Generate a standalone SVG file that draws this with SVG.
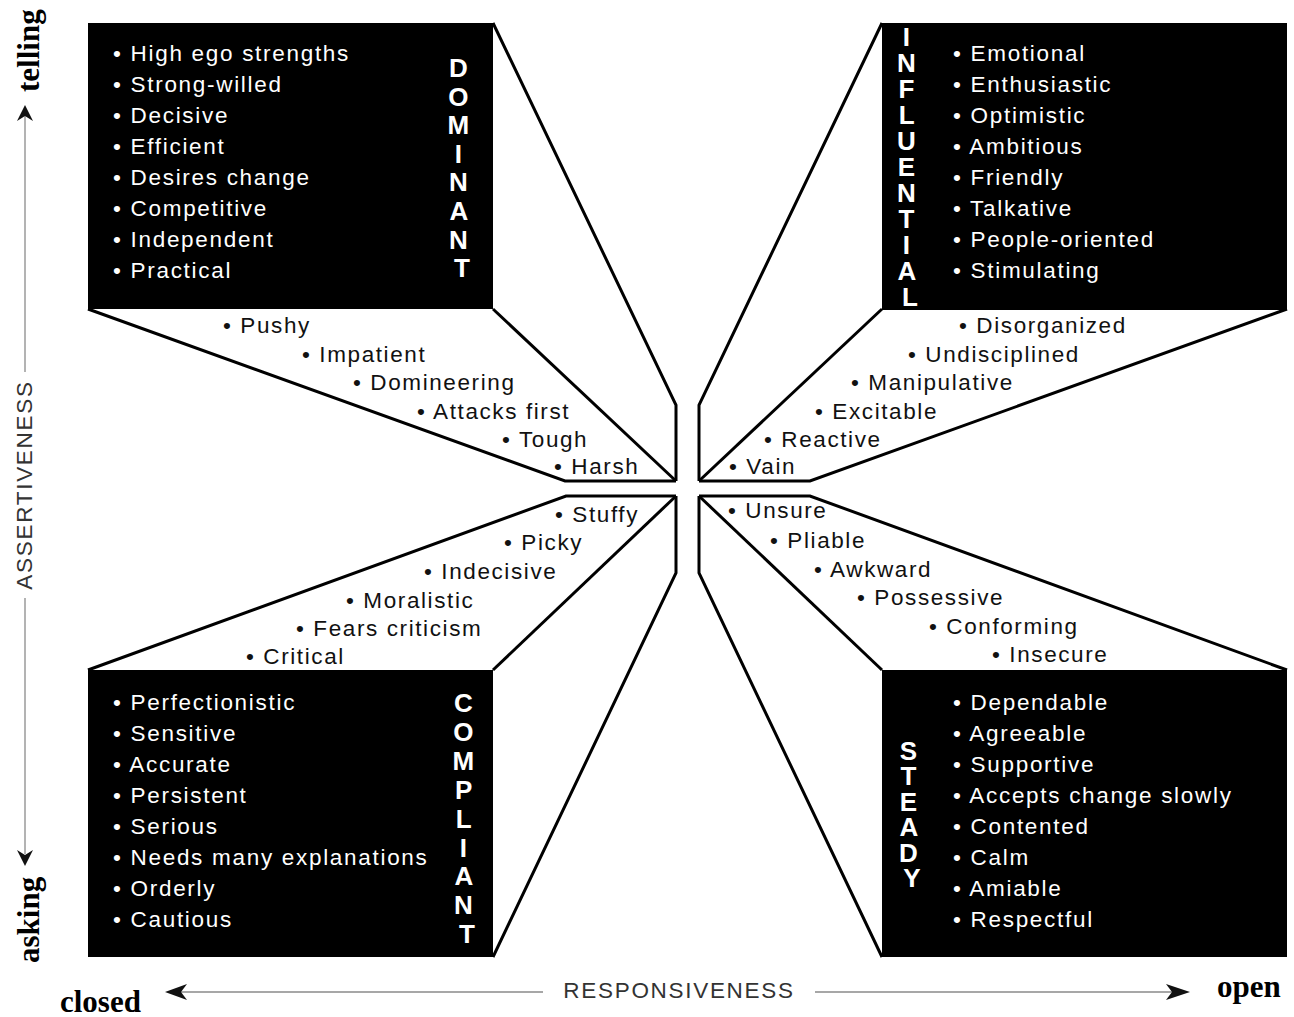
<svg xmlns="http://www.w3.org/2000/svg" width="1294" height="1017" viewBox="0 0 1294 1017">
  <style>
    .box { fill: #000; }
    .edge { fill: none; stroke: #000; stroke-width: 3; stroke-linejoin: miter; }
    .item { font-family: "Liberation Sans", Arial, Helvetica, sans-serif; font-size: 22.5px; letter-spacing: 1.7px; fill: #fff; }
    .trait { font-family: "Liberation Sans", Arial, Helvetica, sans-serif; font-size: 22.5px; letter-spacing: 1.6px; fill: #111; }
    .title { font-family: "Liberation Sans", Arial, Helvetica, sans-serif; font-size: 26px; font-weight: bold; fill: #fff; text-anchor: middle; }
    .axis { fill: none; stroke: #8a8a8a; stroke-width: 1.3; }
    .axislabel { font-family: "Liberation Sans", Arial, Helvetica, sans-serif; font-size: 22.5px; letter-spacing: 1.7px; fill: #333; text-anchor: middle; }
    .pole { font-family: "Liberation Serif", "Times New Roman", serif; font-size: 31px; font-weight: bold; fill: #000; }
    .head { fill: #111; }
  </style>

  <rect width="1294" height="1017" fill="#fff"/>

  <!-- Dominant quadrant -->
  <g id="dominant">
    <rect class="box" x="88" y="23" width="405" height="286"/>
    <text class="item">
      <tspan x="113" y="61">• High ego strengths</tspan>
      <tspan x="113" y="92">• Strong-willed</tspan>
      <tspan x="113" y="123">• Decisive</tspan>
      <tspan x="113" y="154">• Efficient</tspan>
      <tspan x="113" y="185">• Desires change</tspan>
      <tspan x="113" y="216">• Competitive</tspan>
      <tspan x="113" y="247">• Independent</tspan>
      <tspan x="113" y="278">• Practical</tspan>
    </text>
    <text class="title">
      <tspan x="462" y="77">D</tspan>
      <tspan x="462" y="105.6">O</tspan>
      <tspan x="462" y="134.2">M</tspan>
      <tspan x="462" y="162.8">I</tspan>
      <tspan x="462" y="191.4">N</tspan>
      <tspan x="462" y="220">A</tspan>
      <tspan x="462" y="248.6">N</tspan>
      <tspan x="462" y="277.2">T</tspan>
    </text>
    <text class="trait">
      <tspan x="223" y="333">• Pushy</tspan>
      <tspan x="302" y="362">• Impatient</tspan>
      <tspan x="353" y="390">• Domineering</tspan>
      <tspan x="417" y="419">• Attacks first</tspan>
      <tspan x="502" y="447">• Tough</tspan>
      <tspan x="554" y="474">• Harsh</tspan>
    </text>
  </g>

  <!-- Influential quadrant -->
  <g id="influential">
    <rect class="box" x="882" y="23" width="405" height="287"/>
    <text class="item">
      <tspan x="953" y="61">• Emotional</tspan>
      <tspan x="953" y="92">• Enthusiastic</tspan>
      <tspan x="953" y="123">• Optimistic</tspan>
      <tspan x="953" y="154">• Ambitious</tspan>
      <tspan x="953" y="185">• Friendly</tspan>
      <tspan x="953" y="216">• Talkative</tspan>
      <tspan x="953" y="247">• People-oriented</tspan>
      <tspan x="953" y="278">• Stimulating</tspan>
    </text>
    <text class="title">
      <tspan x="910" y="46">I</tspan>
      <tspan x="910" y="72">N</tspan>
      <tspan x="910" y="98">F</tspan>
      <tspan x="910" y="124">L</tspan>
      <tspan x="910" y="150">U</tspan>
      <tspan x="910" y="176">E</tspan>
      <tspan x="910" y="202">N</tspan>
      <tspan x="910" y="228">T</tspan>
      <tspan x="910" y="254">I</tspan>
      <tspan x="910" y="280">A</tspan>
      <tspan x="910" y="306">L</tspan>
    </text>
    <text class="trait">
      <tspan x="959" y="333">• Disorganized</tspan>
      <tspan x="908" y="362">• Undisciplined</tspan>
      <tspan x="851" y="390">• Manipulative</tspan>
      <tspan x="815" y="419">• Excitable</tspan>
      <tspan x="764" y="447">• Reactive</tspan>
      <tspan x="729" y="474">• Vain</tspan>
    </text>
  </g>

  <!-- Compliant quadrant -->
  <g id="compliant">
    <rect class="box" x="88" y="670" width="405" height="287"/>
    <text class="item">
      <tspan x="113" y="710">• Perfectionistic</tspan>
      <tspan x="113" y="741">• Sensitive</tspan>
      <tspan x="113" y="772">• Accurate</tspan>
      <tspan x="113" y="803">• Persistent</tspan>
      <tspan x="113" y="834">• Serious</tspan>
      <tspan x="113" y="865">• Needs many explanations</tspan>
      <tspan x="113" y="896">• Orderly</tspan>
      <tspan x="113" y="927">• Cautious</tspan>
    </text>
    <text class="title">
      <tspan x="467" y="712">C</tspan>
      <tspan x="467" y="740.9">O</tspan>
      <tspan x="467" y="769.8">M</tspan>
      <tspan x="467" y="798.7">P</tspan>
      <tspan x="467" y="827.6">L</tspan>
      <tspan x="467" y="856.5">I</tspan>
      <tspan x="467" y="885.4">A</tspan>
      <tspan x="467" y="914.3">N</tspan>
      <tspan x="467" y="943.2">T</tspan>
    </text>
    <text class="trait">
      <tspan x="555" y="522">• Stuffy</tspan>
      <tspan x="504" y="550">• Picky</tspan>
      <tspan x="424" y="579">• Indecisive</tspan>
      <tspan x="346" y="608">• Moralistic</tspan>
      <tspan x="296" y="636">• Fears criticism</tspan>
      <tspan x="246" y="664">• Critical</tspan>
    </text>
  </g>

  <!-- Steady quadrant -->
  <g id="steady">
    <rect class="box" x="882" y="670" width="405" height="287"/>
    <text class="item">
      <tspan x="953" y="710">• Dependable</tspan>
      <tspan x="953" y="741">• Agreeable</tspan>
      <tspan x="953" y="772">• Supportive</tspan>
      <tspan x="953" y="803">• Accepts change slowly</tspan>
      <tspan x="953" y="834">• Contented</tspan>
      <tspan x="953" y="865">• Calm</tspan>
      <tspan x="953" y="896">• Amiable</tspan>
      <tspan x="953" y="927">• Respectful</tspan>
    </text>
    <text class="title">
      <tspan x="912" y="760">S</tspan>
      <tspan x="912" y="785.4">T</tspan>
      <tspan x="912" y="810.8">E</tspan>
      <tspan x="912" y="836.2">A</tspan>
      <tspan x="912" y="861.6">D</tspan>
      <tspan x="912" y="887">Y</tspan>
    </text>
    <text class="trait">
      <tspan x="728" y="518">• Unsure</tspan>
      <tspan x="770" y="548">• Pliable</tspan>
      <tspan x="814" y="577">• Awkward</tspan>
      <tspan x="857" y="605">• Possessive</tspan>
      <tspan x="929" y="634">• Conforming</tspan>
      <tspan x="992" y="662">• Insecure</tspan>
    </text>
  </g>

  <!-- wedge edges converging on the centre -->
  <g id="connectors">
    <polyline class="edge" points="493,23 676,405 676,481"/>
    <polyline class="edge" points="88,309 565,481 676,481"/>
    <line class="edge" x1="493" y1="309" x2="676" y2="481"/>

    <polyline class="edge" points="882,23 699,405 699,481"/>
    <polyline class="edge" points="1287,309 810,481 699,481"/>
    <line class="edge" x1="882" y1="309" x2="699" y2="481"/>

    <polyline class="edge" points="88,670 566,496 676,496"/>
    <polyline class="edge" points="493,957 676,573 676,496"/>
    <line class="edge" x1="493" y1="670" x2="676" y2="496"/>

    <polyline class="edge" points="1287,670 810,496 699,496"/>
    <polyline class="edge" points="882,957 699,573 699,496"/>
    <line class="edge" x1="882" y1="670" x2="699" y2="496"/>
  </g>

  <!-- axes -->
  <g id="axes">
    <line class="axis" x1="25" y1="116" x2="25" y2="372"/>
    <line class="axis" x1="25" y1="598" x2="25" y2="854"/>
    <path class="head" d="M25,105 L33,121 L25,116 L17,121 Z"/>
    <path class="head" d="M25,866 L33,850 L25,855 L17,850 Z"/>
    <text class="axislabel" transform="translate(32,485) rotate(-90)">ASSERTIVENESS</text>
    <text class="pole" transform="translate(39,92) rotate(-90)">telling</text>
    <text class="pole" transform="translate(39,963) rotate(-90)">asking</text>

    <line class="axis" x1="180" y1="992" x2="543" y2="992"/>
    <line class="axis" x1="815" y1="992" x2="1175" y2="992"/>
    <path class="head" d="M165,992 L187,984 L181,992 L187,1000 Z"/>
    <path class="head" d="M1190,992 L1166,984 L1172,992 L1166,1000 Z"/>
    <text class="axislabel" x="679" y="998">RESPONSIVENESS</text>
    <text class="pole" x="60" y="1012">closed</text>
    <text class="pole" x="1217" y="997">open</text>
  </g>
</svg>
